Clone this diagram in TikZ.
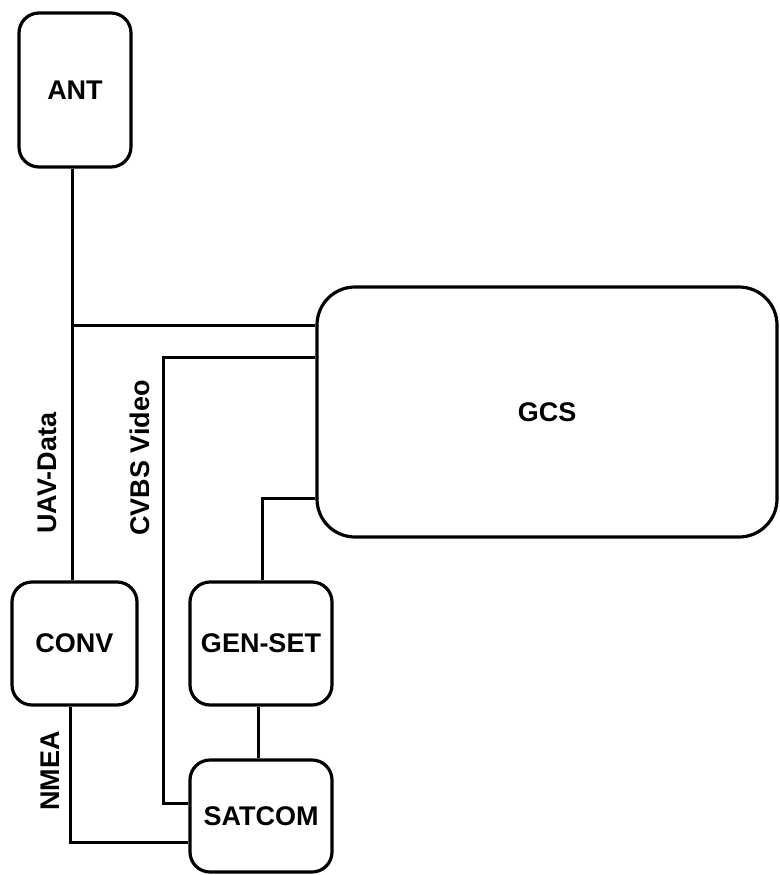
\documentclass[tikz,border=0pt]{standalone}
\usepackage{fontspec}
\setmainfont{Liberation Sans}
\begin{document}
\begin{tikzpicture}[x=1pt,y=-1pt,
  box/.style={draw=black,line width=3.2pt,rounded corners=20pt,inner sep=0pt,fill=white,
    font=\fontsize{27}{32}\selectfont\bfseries},
  wire/.style={draw=black,line width=3pt},
  lbl/.style={rotate=90,inner sep=0pt,font=\fontsize{27}{32}\selectfont\bfseries}]
\useasboundingbox (0,0) rectangle (779,875);
\node[box,minimum width=112pt,minimum height=154pt] (ANT) at (75,90) {ANT};
\node[box,rounded corners=38pt,minimum width=460pt,minimum height=250pt] (GCS) at (547,412) {GCS};
\node[box,minimum width=125pt,minimum height=123pt] (CONV) at (74.5,643.5) {CONV};
\node[box,minimum width=142pt,minimum height=123pt] (GEN) at (261,643.5) {GEN-SET};
\node[box,minimum width=142pt,minimum height=112pt] (SAT) at (261,816) {SATCOM};
% coordinates of bends
\coordinate (j1) at (72,325);
\coordinate (c1) at (163,357);
\coordinate (c2) at (163,803);
\coordinate (g1) at (262,498);
\coordinate (n1) at (70,842);
% connectors
\draw[wire] (ANT.south -| j1) -- (CONV.north -| j1);
\draw[wire] (j1) -- (j1 -| GCS.west);
\draw[wire] (c1 -| GCS.west) -- (c1) -- (c2) -- (c2 -| SAT.west);
\draw[wire] (g1 -| GCS.west) -- (g1) -- (g1 |- GEN.north);
\draw[wire] ([xshift=-3pt]GEN.south) -- ([xshift=-3pt]SAT.north);
\draw[wire] (CONV.south -| n1) -- (n1) -- (n1 -| SAT.west);
% labels
\node[lbl] (L1) at (47,473) {UAV-Data};
\node[lbl] (L2) at (140,458) {CVBS Video};
\node[lbl] (L3) at (50,771) {NMEA};
\end{tikzpicture}
\end{document}
